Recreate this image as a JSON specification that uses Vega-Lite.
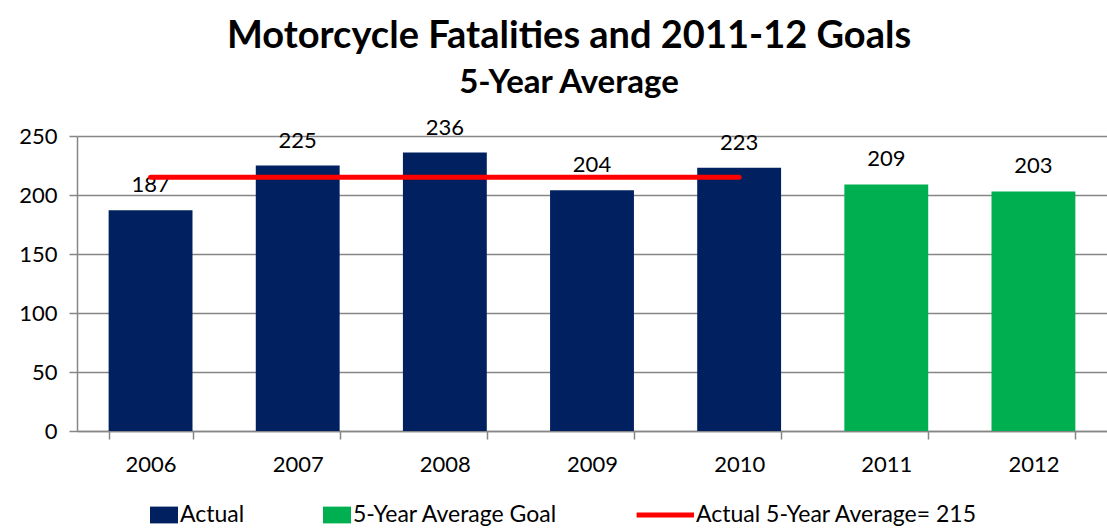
{
  "$schema": "https://vega.github.io/schema/vega-lite/v6.json",
  "autosize": {"type": "none"},
  "width": 1030,
  "height": 295,
  "padding": {"left": 77, "top": 136, "right": 0, "bottom": 100},
  "background": "white",
  "config": {
    "font": "Lato",
    "view": {"stroke": null}
  },
  "title": {
    "text": "Motorcycle Fatalities and 2011-12 Goals",
    "subtitle": "5-Year Average",
    "fontSize": 38,
    "fontWeight": "bold",
    "subtitleFontSize": 33,
    "subtitleFontWeight": "bold",
    "subtitleColor": "black",
    "color": "black",
    "anchor": "middle",
    "frame": "group",
    "dx": -23,
    "offset": 17,
    "subtitlePadding": 11
  },
  "datasets": {
    "bars": [
      {"year": "2006", "value": 187, "series": "Actual"},
      {"year": "2007", "value": 225, "series": "Actual"},
      {"year": "2008", "value": 236, "series": "Actual"},
      {"year": "2009", "value": 204, "series": "Actual"},
      {"year": "2010", "value": 223, "series": "Actual"},
      {"year": "2011", "value": 209, "series": "5-Year Average Goal"},
      {"year": "2012", "value": 203, "series": "5-Year Average Goal"}
    ],
    "avg": [
      {"year": "2006", "value": 215, "series": "Actual 5-Year Average= 215"},
      {"year": "2007", "value": 215, "series": "Actual 5-Year Average= 215"},
      {"year": "2008", "value": 215, "series": "Actual 5-Year Average= 215"},
      {"year": "2009", "value": 215, "series": "Actual 5-Year Average= 215"},
      {"year": "2010", "value": 215, "series": "Actual 5-Year Average= 215"}
    ]
  },
  "encoding": {
    "x": {
      "field": "year",
      "type": "nominal",
      "scale": {"domain": ["2006","2007","2008","2009","2010","2011","2012"], "paddingInner": 0.43, "paddingOuter": 0.215},
      "axis": {
        "title": null,
        "labelAngle": 0,
        "labelFontSize": 22,
        "labelColor": "black",
        "labelPadding": 15,
        "domainColor": "#868686",
        "domainWidth": 1.5,
        "tickColor": "#868686",
        "tickWidth": 1.5,
        "tickSize": 8,
        "tickBand": "extent",
        "grid": false
      }
    },
    "y": {
      "field": "value",
      "type": "quantitative",
      "scale": {"domain": [0, 250], "nice": false},
      "axis": {
        "title": null,
        "values": [0, 50, 100, 150, 200, 250],
        "labelFontSize": 22,
        "labelColor": "black",
        "labelPadding": 12,
        "domainColor": "#868686",
        "domainWidth": 1.5,
        "tickColor": "#868686",
        "tickWidth": 1.5,
        "tickSize": 8,
        "grid": true,
        "gridColor": "#868686",
        "gridWidth": 1.5
      }
    },
    "color": {
      "field": "series",
      "type": "nominal",
      "scale": {
        "domain": ["Actual", "5-Year Average Goal", "Actual 5-Year Average= 215"],
        "range": ["#002060", "#00B050", "#FF0000"]
      },
      "legend": {
        "title": null,
        "orient": "none",
        "legendX": 73,
        "legendY": 365,
        "direction": "horizontal",
        "labelFontSize": 23,
        "labelColor": "black",
        "labelLimit": 0,
        "symbolSize": 784,
        "symbolStrokeWidth": 0,
        "labelOffset": 2,
        "columnPadding": 78,
        "symbolOpacity": 1,
        "encode": {
          "symbols": {
            "update": {
              "shape": {"signal": "datum.value === 'Actual 5-Year Average= 215' ? 'M-3.1,-0.18H1V0.18H-3.1Z' : 'M-1,-0.6H1V0.6H-1Z'"},
              "fill": {"signal": "scale('color', datum.value)"},
              "stroke": {"value": null}
            }
          }
        }
      }
    }
  },
  "layer": [
    {
      "data": {"name": "bars"},
      "mark": {"type": "bar", "opacity": 1},
      "encoding": {}
    },
    {
      "data": {"name": "bars"},
      "mark": {"type": "text", "baseline": "bottom", "dy": -13, "fontSize": 22, "color": "black"},
      "encoding": {
        "text": {"field": "value", "type": "quantitative"},
        "color": {"value": "black"}
      }
    },
    {
      "data": {"name": "avg"},
      "mark": {"type": "line", "strokeWidth": 5, "strokeCap": "round"},
      "encoding": {}
    }
  ]
}
